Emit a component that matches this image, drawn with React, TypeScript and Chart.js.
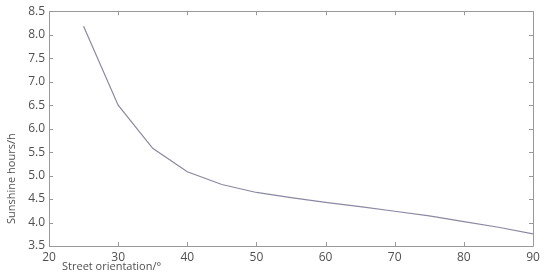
import React, { useEffect, useRef } from "react";
import { Chart, registerables } from "chart.js";

Chart.register(...registerables);

const orientations = [25, 30, 35, 40, 45, 50, 55, 60, 65, 70, 75, 80, 85, 90];
const sunshineHours = [8.18, 6.5, 5.58, 5.08, 4.81, 4.64, 4.53, 4.43, 4.34, 4.24, 4.14, 4.02, 3.9, 3.76];
const xTitle = "Street orientation/°";
const yTitle = "Sunshine hours/h";

const FONT = "'Open Sans', 'Noto Sans', sans-serif";
const AXIS = "#999999";
const TEXT = "#505050";

const framePlugin = {
  id: "frame",
  afterDraw(chart: any) {
    const { ctx, chartArea: a, scales } = chart;
    const x = scales.x;
    const y = scales.y;
    ctx.save();
    ctx.strokeStyle = AXIS;
    ctx.lineWidth = 1;
    ctx.beginPath();
    ctx.rect(Math.round(a.left) + 0.5, Math.round(a.top) + 0.5, Math.round(a.right - a.left), Math.round(a.bottom - a.top));
    ctx.stroke();
    const len = 4;
    ctx.beginPath();
    x.ticks.forEach((t: any) => {
      const px = Math.round(x.getPixelForValue(t.value)) + 0.5;
      ctx.moveTo(px, a.bottom);
      ctx.lineTo(px, a.bottom - len);
      ctx.moveTo(px, a.top);
      ctx.lineTo(px, a.top + len);
    });
    y.ticks.forEach((t: any) => {
      const py = Math.round(y.getPixelForValue(t.value)) + 0.5;
      ctx.moveTo(a.left, py);
      ctx.lineTo(a.left + len, py);
      ctx.moveTo(a.right, py);
      ctx.lineTo(a.right - len, py);
    });
    ctx.stroke();
    ctx.fillStyle = TEXT;
    ctx.font = `11px ${FONT}`;
    ctx.textBaseline = "middle";
    ctx.textAlign = "left";
    ctx.fillText(xTitle, a.left + 13, a.bottom + 21);
    ctx.translate(12, (a.top + a.bottom) / 2 + 50);
    ctx.rotate(-Math.PI / 2);
    ctx.textAlign = "center";
    ctx.fillText(yTitle, 0, 0);
    ctx.restore();
  },
};

export default function App() {
  const ref = useRef<HTMLCanvasElement>(null);
  useEffect(() => {
    if (!ref.current) return;
    const chart = new Chart(ref.current, {
      type: "line",
      data: {
        datasets: [
          {
            data: orientations.map((o, i) => ({ x: o, y: sunshineHours[i] })),
            borderColor: "#8a88a2",
            borderWidth: 1.2,
            pointRadius: 0,
            tension: 0,
            fill: false,
          },
        ],
      },
      options: {
        animation: false,
        responsive: false,
        devicePixelRatio: 1,
        layout: { padding: { left: 0, top: 11, right: 17, bottom: 0 } },
        plugins: { legend: { display: false }, tooltip: { enabled: false } },
        scales: {
          x: {
            type: "linear",
            min: 20,
            max: 90,
            afterFit: (s: any) => { s.height = 34; },
            grid: { display: false, drawTicks: false },
            border: { display: false },
            ticks: { stepSize: 10, padding: 4, color: TEXT, font: { family: FONT, size: 12 } },
          },
          y: {
            min: 3.5,
            max: 8.5,
            afterFit: (s: any) => { s.width = 49; },
            grid: { display: false, drawTicks: false },
            border: { display: false },
            ticks: {
              stepSize: 0.5,
              padding: 4,
              color: TEXT,
              font: { family: FONT, size: 12 },
              callback: (v: any) => Number(v).toFixed(1),
            },
          },
        },
      },
      plugins: [framePlugin],
    });
    return () => chart.destroy();
  }, []);
  return (
    <div style={{ position: "fixed", left: 0, top: 0, width: 550, height: 280, background: "#fff" }}>
      <canvas ref={ref} width={550} height={280} />
    </div>
  );
}
